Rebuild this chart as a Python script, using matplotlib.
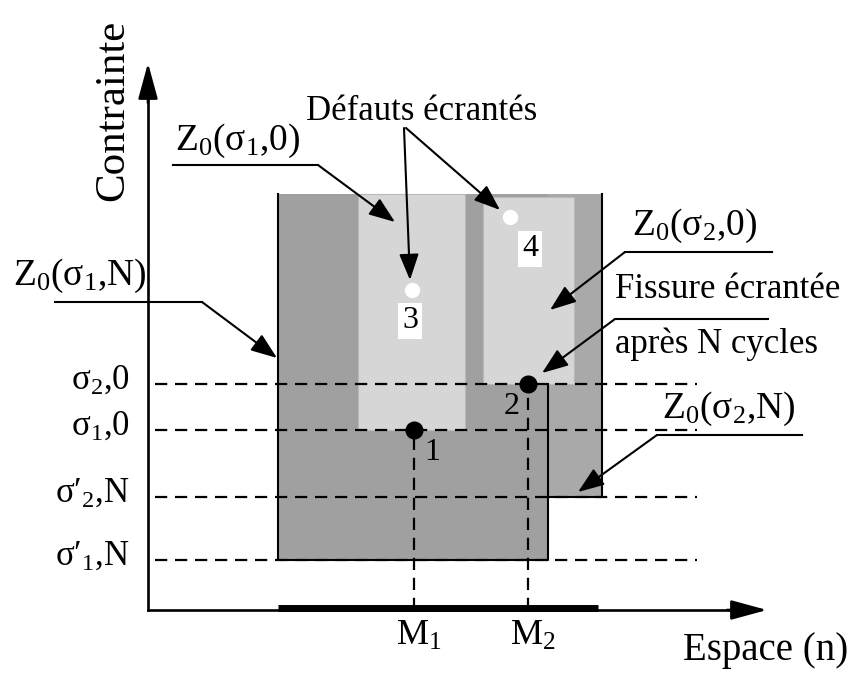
import matplotlib
matplotlib.use("Agg")
import matplotlib.pyplot as plt
from matplotlib.patches import Rectangle

plt.rcParams['font.family'] = ['Liberation Serif', 'DejaVu Serif']
plt.rcParams['mathtext.fontset'] = 'custom'
plt.rcParams['mathtext.rm'] = 'Liberation Serif'
plt.rcParams['mathtext.it'] = 'Liberation Serif:italic'
plt.rcParams['mathtext.bf'] = 'Liberation Serif:bold'

# ---------------- data (schematic units, origin = axes crossing) ----------------
level_names = [r"$\mathrm{σ_2{,}0}$", r"$\mathrm{σ_1{,}0}$", r"$\mathrm{σ′_2{,}N}$", r"$\mathrm{σ′_1{,}N}$"]
level_values = [226, 180, 113, 50]          # σ2,0  σ1,0  σ'2,N  σ'1,N
zone_top = 416
zone_left = 130
zone1N_right = 400                           # Z0(σ1,N) right edge
zone2N_right = 454                           # Z0(σ2,N) right edge
zone10_x = [210, 317]                        # Z0(σ1,0)
zone20_x = [335, 426]                        # Z0(σ2,0)
zone20_top = 413
M_positions = [266, 380]
M_labels = [r"$\mathrm{M_1}$", r"$\mathrm{M_2}$"]
defect_x = [264, 362]
defect_y = [320, 393]
defect_labels = ["3", "4"]
point_labels = ["1", "2"]
space_bar = [130, 450]
dash_span = [7, 549]
y_axis_top = 547
x_axis_end = 619

fig = plt.figure(figsize=(8.55, 6.73), dpi=100)
ax = fig.add_axes([0, 0, 1, 1])
ax.set_xlim(-148, 707)
ax.set_ylim(-63, 610)
ax.axis('off')

dark = '#a0a0a0'
medium = '#a9a9a9'
light = '#d6d6d6'

# zones
ax.add_patch(Rectangle((zone_left, level_values[3]), zone1N_right - zone_left,
                       zone_top - level_values[3], facecolor=dark, edgecolor='none', zorder=1))
ax.add_patch(Rectangle((zone1N_right, level_values[2]), zone2N_right - zone1N_right,
                       zone_top - level_values[2], facecolor=medium, edgecolor='none', zorder=1))
ax.add_patch(Rectangle((zone10_x[0], level_values[1]), zone10_x[1] - zone10_x[0],
                       zone_top - level_values[1], facecolor=light, edgecolor='#b9b9b9', lw=0.8, zorder=2))
ax.add_patch(Rectangle((zone20_x[0], level_values[0]), zone20_x[1] - zone20_x[0],
                       zone20_top - level_values[0], facecolor=light, edgecolor='#b9b9b9', lw=0.8, zorder=2))

# zone outlines
ax.plot([zone_left, zone_left, zone1N_right, zone1N_right],
        [zone_top, level_values[3], level_values[3], level_values[0]], color='k', lw=1.5, zorder=3)
ax.plot([zone1N_right, zone2N_right, zone2N_right],
        [level_values[2], level_values[2], zone_top], color='k', lw=1.5, zorder=3)

# dashed stress levels
for v in level_values:
    ax.plot(dash_span, [v, v], color='k', lw=1.6, ls=(0, (5.5, 3.5)), zorder=4)
# dashed verticals for M1, M2
for m, v in zip(M_positions, level_values[1::-1]):
    ax.plot([m, m], [0, v], color='k', lw=1.6, ls=(0, (5.5, 3.5)), zorder=4)

# axes with arrows
ax.plot([0, 0], [0, y_axis_top - 25], color='k', lw=1.9, zorder=5)
ax.plot([0, x_axis_end - 25], [0, 0], color='k', lw=1.9, zorder=5)
ax.annotate('', xy=(0, y_axis_top), xytext=(0, y_axis_top - 40),
            arrowprops=dict(arrowstyle='-|>,head_length=1.1,head_width=0.3', mutation_scale=20,
                            lw=1.9, color='k', shrinkA=0, shrinkB=0), zorder=5)
ax.annotate('', xy=(x_axis_end, 0), xytext=(x_axis_end - 40, 0),
            arrowprops=dict(arrowstyle='-|>,head_length=1.1,head_width=0.3', mutation_scale=20,
                            lw=1.9, color='k', shrinkA=0, shrinkB=0), zorder=5)
ax.plot(space_bar, [2, 2], color='k', lw=5, solid_capstyle='butt', zorder=5)

# points 1, 2
ax.plot(M_positions, level_values[1::-1], 'o', color='k', ms=12, zorder=6)
ax.text(M_positions[0] + 18, level_values[1] - 23, point_labels[0], fontsize=23, ha='center', va='center', zorder=6)
ax.text(M_positions[1] - 16, level_values[0] - 23, point_labels[1], fontsize=23, ha='center', va='center', zorder=6)

# defects 3, 4
ax.plot(defect_x, defect_y, 'o', color='white', ms=10, zorder=6)
ax.text(defect_x[0] - 2, defect_y[0] - 31, defect_labels[0], fontsize=23, ha='center', va='center',
        bbox=dict(boxstyle='square,pad=0.12', fc='white', ec='none'), zorder=6)
ax.text(defect_x[1] + 20, defect_y[1] - 32, defect_labels[1], fontsize=23, ha='center', va='center',
        bbox=dict(boxstyle='square,pad=0.12', fc='white', ec='none'), zorder=6)

# axis labels and level labels
ax.text(-35, 500, 'Contrainte', rotation=90, fontsize=31, ha='center', va='center')
ax.text(535, -50, 'Espace (n)', fontsize=28, ha='left', va='baseline')
for name, v in zip(level_names, level_values):
    ax.text(-18, v - 5, name, fontsize=25, ha='right', va='baseline')
for m, lab in zip(M_positions, M_labels):
    ax.text(m + 5, -35, lab, fontsize=26, ha='center', va='baseline')

arrow_kw = dict(arrowstyle='-|>,head_length=0.8,head_width=0.3', mutation_scale=20,
                lw=1.5, color='k', shrinkA=0, shrinkB=0)

def leader(text, tx, ty, line_x0, line_x1, line_y, start_x, tip, fs=26):
    ax.text(tx, ty, text, fontsize=fs, ha='left', va='baseline')
    ax.plot([line_x0, line_x1], [line_y, line_y], color='k', lw=1.5, zorder=5)
    ax.annotate('', xy=tip, xytext=(start_x, line_y), arrowprops=arrow_kw, zorder=7)

leader(r"$\mathrm{Z_0(σ_1{,}0)}$", 27, 460, 25, 170, 445, 170, (247, 388), fs=27)
leader(r"$\mathrm{Z_0(σ_1{,}N)}$", -135, 325, -93, 54, 308, 54, (129, 252), fs=27)
leader(r"$\mathrm{Z_0(σ_2{,}0)}$", 484, 375, 477, 624, 358, 477, (402, 300), fs=27)
leader(r"$\mathrm{Z_0(σ_2{,}N)}$", 514, 192, 509, 654, 175, 509, (430, 118), fs=27)
leader("Fissure écrantée", 467, 312, 467, 620, 291, 467, (394, 237), fs=25)
ax.text(467, 257, "après N cycles", fontsize=25, ha='left', va='baseline')

# Défauts écrantés
ax.text(422 - 148, 490, 'Défauts écrantés', fontsize=25, ha='center', va='baseline')
ax.annotate('', xy=(262, 330), xytext=(256, 482), arrowprops=arrow_kw, zorder=7)
ax.annotate('', xy=(352, 400), xytext=(258, 482), arrowprops=arrow_kw, zorder=7)

fig.savefig('out.png', dpi=100)
